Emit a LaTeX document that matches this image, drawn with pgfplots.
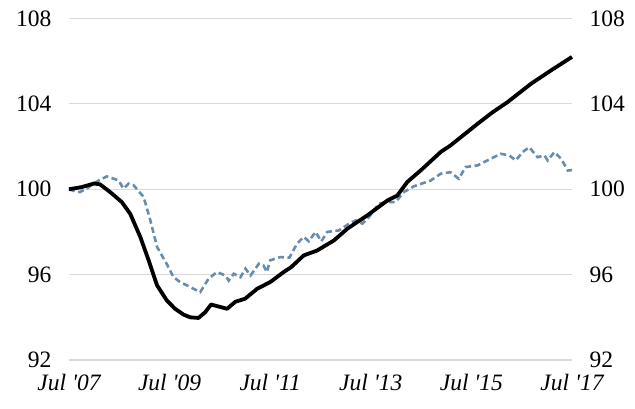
\documentclass[border=0pt]{standalone}
\usepackage{fontspec}
\setmainfont{Liberation Serif}
\usepackage{pgfplots}
\pgfplotsset{compat=1.18}
\definecolor{dblue}{RGB}{104,140,174}
\definecolor{gridgray}{RGB}{217,217,217}
\begin{document}
\begin{tikzpicture}
\useasboundingbox (-69pt,-48pt) rectangle (566pt,360pt);
\pgfplotsset{
  common/.style={
    scale only axis, width=503pt, height=341.5pt,
    xmin=0, xmax=120, ymin=92, ymax=108,
    ytick={92,96,100,104,108},
    axis line style={draw=none},
    major tick length=0pt,
    /pgf/number format/assume math mode=true,
    tick label style={font=\fontsize{23.5}{26}\selectfont},
  }
}
\begin{axis}[common,
  xtick={0,24,48,72,96,120},
  xticklabels={Jul \textquotesingle 07,Jul \textquotesingle 09,Jul \textquotesingle 11,Jul \textquotesingle 13,Jul \textquotesingle 15,Jul \textquotesingle 17},
  xticklabel style={font=\fontsize{23.5}{26}\selectfont\itshape, yshift=-11pt},
  ymajorgrids, grid style={gridgray, line width=1.2pt},
  yticklabel style={xshift=-14pt},
  clip=false,
]
\addplot[dblue, line width=2.6pt, dash pattern=on 6pt off 3.5pt] coordinates {
(0,100.0) (1.5,99.9) (2.6,99.87) (4.2,100.02) (5.4,100.2) (7,100.4) (9,100.6)
(11.8,100.42) (13,100.03) (14.2,100.26) (15.4,100.19) (17.8,99.64) (19.4,98.55)
(21,97.3) (23.3,96.51) (24.9,95.89) (26.5,95.65) (28.1,95.5) (31.3,95.18)
(33.3,95.81) (35.3,96.12) (37.3,95.96) (38.1,95.72) (39.3,96.04) (40.9,95.88)
(42.1,96.28) (43.3,95.96) (45.3,96.51) (46.4,96.43) (47.2,96.12) (48,96.67)
(50.4,96.82) (52.6,96.8) (54.4,97.45) (56,97.77) (57.2,97.56) (58.8,98.0)
(60.2,97.56) (61.6,98.0) (64.4,98.07) (66.8,98.39) (68.4,98.54) (70,98.39)
(71.6,98.7) (73.9,99.32) (75.9,99.4) (77.9,99.4) (79.9,99.87) (82.3,100.14)
(86.3,100.41) (88.7,100.73) (91,100.8) (93,100.49) (94.6,101.04) (97.5,101.12)
(99.8,101.35) (103,101.66) (105,101.59) (106.6,101.35) (108.2,101.74)
(109.8,101.97) (111.8,101.5) (113.4,101.59) (114.2,101.35) (115.8,101.74)
(117.4,101.43) (119,100.88) (120,100.9)
};
\addplot[black, line width=3.8pt, line join=round] coordinates {
(0,100.0) (3,100.1) (6,100.27) (7.4,100.23) (9.8,99.87) (12.6,99.4) (14.6,98.85)
(17,97.77) (19,96.67) (21,95.5) (23.3,94.8) (25.3,94.4) (27.3,94.13) (28.9,94.0)
(30.9,93.97) (32.5,94.24) (33.9,94.6) (37.7,94.4) (39.7,94.73) (42,94.87)
(44.9,95.34) (48,95.65) (51.2,96.12) (53,96.35) (56,96.9) (59.2,97.13)
(63.2,97.6) (66.4,98.15) (71.2,98.78) (76,99.48) (78.3,99.7) (80.7,100.34)
(84,100.9) (88.7,101.75) (91,102.05) (97.5,103.07) (101,103.6) (104.6,104.08)
(110.2,104.94) (115,105.57) (120,106.2)
};
\end{axis}
\begin{axis}[common,
  xtick=\empty,
  yticklabel pos=right,
  yticklabel style={xshift=14pt},
]
\end{axis}
\end{tikzpicture}
\end{document}
